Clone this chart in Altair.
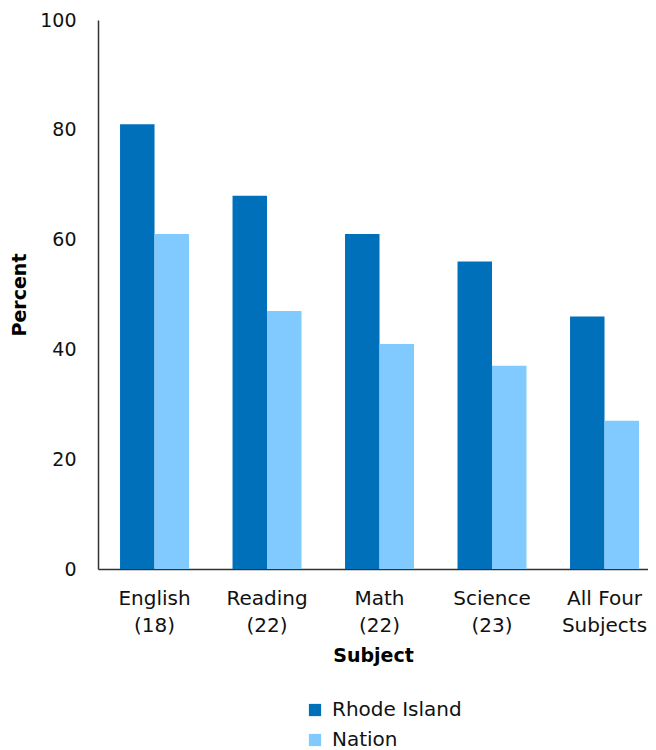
import altair as alt
import pandas as pd

subjects = ["English|(18)", "Reading|(22)", "Math|(22)", "Science|(23)", "All Four|Subjects"]
series = ["Rhode Island", "Nation"]
ri_values = [81, 68, 61, 56, 46]
nation_values = [61, 47, 41, 37, 27]
colors = ["#0070BA", "#80CAFF"]

rows = []
for s, a, b in zip(subjects, ri_values, nation_values):
    rows.append({"Subject": s, "Series": series[0], "Percent": a})
    rows.append({"Subject": s, "Series": series[1], "Percent": b})
df = pd.DataFrame(rows)

FONT = "DejaVu Sans"
FS = 19

chart = alt.Chart(df).mark_bar().encode(
    x=alt.X("Subject:N", sort=subjects,
            scale=alt.Scale(paddingInner=0.387, paddingOuter=0.138, align=0.71),
            axis=alt.Axis(title="Subject", labelAngle=0, tickSize=0, labelPadding=19,
                          labelExpr="split(datum.label, '|')", labelFontSize=20,
                          labelFont=FONT, labelColor="#111", labelLineHeight=27,
                          titleFont=FONT, titleFontSize=FS, titleFontWeight="bold",
                          titlePadding=11, domainColor="#333", domainWidth=1.5)),
    xOffset=alt.XOffset("Series:N", sort=series),
    y=alt.Y("Percent:Q", scale=alt.Scale(domain=[0, 100]),
            axis=alt.Axis(title="Percent", values=[0, 20, 40, 60, 80, 100], grid=False,
                          tickSize=0, labelPadding=22, labelFontSize=FS, labelFont=FONT,
                          labelColor="#111", titleFont=FONT, titleFontSize=FS,
                          titleFontWeight="bold", titlePadding=10,
                          domainColor="#333", domainWidth=1.5)),
    color=alt.Color("Series:N", sort=series,
                    scale=alt.Scale(domain=series, range=colors),
                    legend=alt.Legend(title=None, orient="none", legendX=207, legendY=680,
                                      direction="vertical", symbolType="square",
                                      symbolSize=150, symbolStrokeWidth=0,
                                      labelFont=FONT, labelFontSize=20, labelColor="#111",
                                      rowPadding=10, labelOffset=7)),
).properties(
    width=550, height=549,
    autosize=alt.AutoSizeParams(type="none"),
    padding={"left": 90, "top": 12, "right": 0, "bottom": 181},
).configure_view(stroke=None)

chart.save("out.html", embed_options={"renderer": "svg", "actions": False})
